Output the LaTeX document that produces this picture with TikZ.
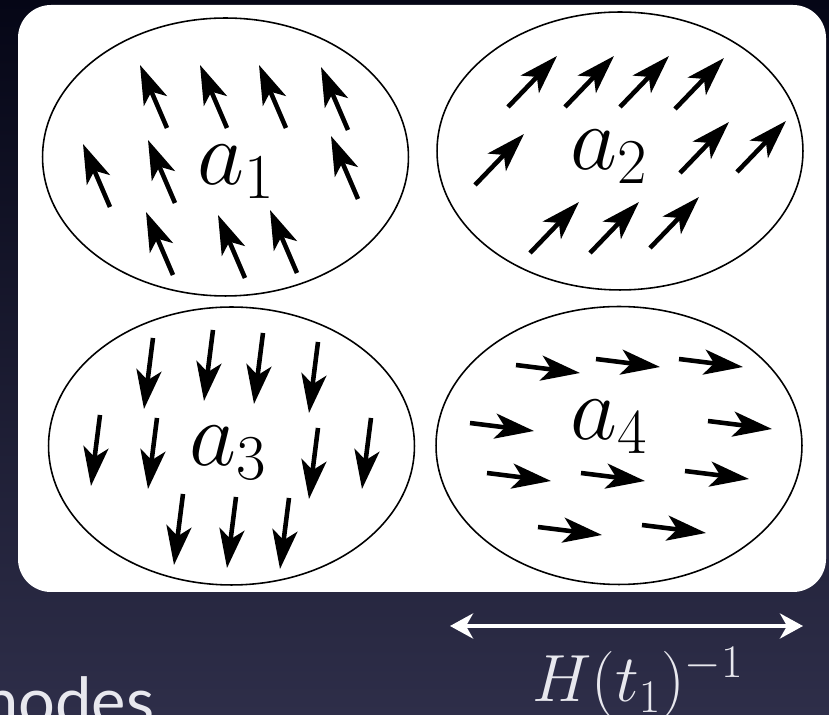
\RequirePackage{fix-cm}
\documentclass[tikz,border=0pt]{standalone}
\usepackage[no-math]{fontspec}
\newfontfamily\slidefont{Lato}
\usetikzlibrary{shapes.geometric, arrows.meta}
\definecolor{slidetop}{RGB}{5,6,22}
\definecolor{slidemid}{RGB}{27,29,53}
\definecolor{slidebot}{RGB}{46,46,73}
\definecolor{slidetext}{RGB}{232,232,238}

\begin{document}
\begin{tikzpicture}[
  x=0.02cm, y=-0.02cm,
  patch/.style={ellipse, draw=black, line width=0.9pt, inner sep=0pt,
    minimum width=7.32cm, minimum height=5.56cm},
  patchlbl/.style={anchor=base west, inner sep=0pt,
    font=\fontsize{52}{56}\selectfont},
  spin/.style={-{Stealth[length=0.78cm, width=0.5cm, inset=0.2cm]},
    line width=2.6pt, black},
  span/.style={{Stealth[length=0.46cm, width=0.5cm, inset=0.14cm]}-{Stealth[length=0.46cm, width=0.5cm, inset=0.14cm]},
    line width=2.2pt, white}
]
  \useasboundingbox (0,0) rectangle (829,715);
  \shade[top color=slidetop, middle color=slidemid, bottom color=slidebot]
    (0,0) rectangle (829,715);
  \fill[white, rounded corners=0.66cm] (18,5) rectangle (826,592);

  %% the four patches
  \node[patch] (cell1) at (225.5,157) {};
  \node[patch] (cell2) at (620,151) {};
  \node[patch] (cell3) at (231.5,446) {};
  \node[patch] (cell4) at (619,445.5) {};

  \node[patchlbl] (lbl1) at (197,185) {$a_1$};
  \node[patchlbl] (lbl2) at (570,170) {$a_2$};
  \node[patchlbl] (lbl3) at (189,466) {$a_3$};
  \node[patchlbl] (lbl4) at (570,440) {$a_4$};

  %% spins in each patch
  \foreach \x/\y in {167/128, 227/128, 286/128, 348/130, 110/207,
      175/203, 358/199, 173/275, 245/278, 297/273}
    \draw[spin] (\x,\y) -- ++(-27,-63);
  \foreach \x/\y in {508/107, 565/107, 620/107, 675/109, 475/185,
      680/173, 737/172, 530/253, 590/253, 650/248}
    \draw[spin] (\x,\y) -- ++(49,-51);
  \foreach \x/\y in {153/338, 213/330, 263/333, 318/342, 100/415,
      157/418, 318/428, 371/418, 183/494, 236/497, 289/498}
    \draw[spin] (\x,\y) -- ++(-9,71);
  \foreach \x/\y in {516/365, 596/359, 679/359, 470/423, 708/421,
      487/473, 581/473, 685/471, 538/527, 642/525}
    \draw[spin] (\x,\y) -- ++(64,8);

  %% horizon scale
  \coordinate (hl) at (450,626);
  \coordinate (hr) at (803,626);
  \draw[span] (hl) -- (hr);
  \node[anchor=base west, inner sep=0pt, text=slidetext,
    font=\fontsize{38}{42}\selectfont] (hub) at (532,702) {$H(t_1)^{-1}$};

  \node[anchor=base west, inner sep=0pt, text=slidetext,
    font=\slidefont\fontsize{37}{40}\selectfont] (caption) at (-18,725) {nodes};
\end{tikzpicture}
\end{document}
